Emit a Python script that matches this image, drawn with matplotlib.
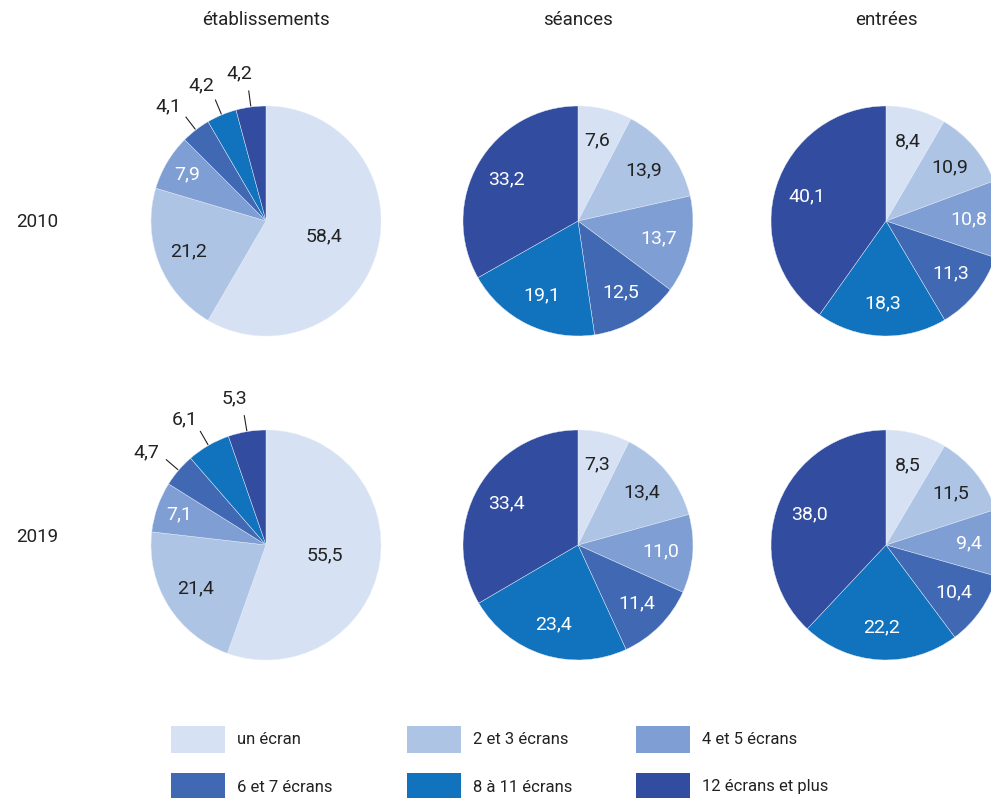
import numpy as np
import matplotlib.pyplot as plt
from matplotlib.patches import Rectangle

plt.rcParams['font.family'] = ['Roboto', 'DejaVu Sans']

categories = ['un écran', '2 et 3 écrans', '4 et 5 écrans',
              '6 et 7 écrans', '8 à 11 écrans', '12 écrans et plus']
colors = ['#d6e2f3', '#aec4e5', '#7f9fd4', '#4169b3', '#1173be', '#324da0']
text_colors = ['#222222', '#222222', 'white', 'white', 'white', 'white']

columns = ['établissements', 'séances', 'entrées']
years = ['2010', '2019']

etab_2010 = [58.4, 21.2, 7.9, 4.1, 4.2, 4.2]
seances_2010 = [7.6, 13.9, 13.7, 12.5, 19.1, 33.2]
entrees_2010 = [8.4, 10.9, 10.8, 11.3, 18.3, 40.1]
etab_2019 = [55.5, 21.4, 7.1, 4.7, 6.1, 5.3]
seances_2019 = [7.3, 13.4, 11.0, 11.4, 23.4, 33.4]
entrees_2019 = [8.5, 11.5, 9.4, 10.4, 22.2, 38.0]

data = [[etab_2010, seances_2010, entrees_2010],
        [etab_2019, seances_2019, entrees_2019]]

W, H = 991, 798
fig = plt.figure(figsize=(W / 100, H / 100), dpi=100)

centers_x = [266, 578, 886]
centers_y = [221, 545]
year_y = [222, 537]
R = 115
dark = '#222222'


def fmt(v):
    return f'{v:.1f}'.replace('.', ',')


for i, row in enumerate(data):
    for j, vals in enumerate(row):
        cx, cy = centers_x[j], centers_y[i]
        ax = fig.add_axes([(cx - R) / W, 1 - (cy + R) / H, 2 * R / W, 2 * R / H])
        ax.pie(vals, colors=colors, startangle=90, counterclock=False,
               radius=1, wedgeprops=dict(linewidth=0.3, edgecolor='#e8eef8'))
        ax.set_xlim(-1, 1)
        ax.set_ylim(-1, 1)
        ax.set_aspect('equal')
        ax.axis('off')

        cum = np.cumsum([0] + vals)
        total = cum[-1]
        for k, v in enumerate(vals):
            mid = 90 - 360 * (cum[k] + v / 2) / total
            a = np.deg2rad(mid)
            if j == 0 and k >= 3:
                # small slices: label outside with a leader line
                ax.plot([1.01 * np.cos(a), 1.14 * np.cos(a)],
                        [1.01 * np.sin(a), 1.14 * np.sin(a)],
                        color=dark, lw=0.8, clip_on=False)
                b = a + np.deg2rad(2.5)
                ax.text(1.32 * np.cos(b), 1.3 * np.sin(b), fmt(v),
                        ha='center', va='center', fontsize=14, color=dark)
            else:
                r = 0.52 if v > 50 else (0.8 if v < 9 and j == 0 else 0.72)
                ax.text(r * np.cos(a), r * np.sin(a), fmt(v),
                        ha='center', va='center', fontsize=14,
                        color=text_colors[k])

for j, name in enumerate(columns):
    fig.text(centers_x[j] / W, 1 - 20 / H, name, ha='center', va='center',
             fontsize=13.5, color=dark)

for i, y in enumerate(years):
    fig.text(37 / W, 1 - year_y[i] / H, y, ha='center', va='center',
             fontsize=13.5, color=dark)

# legend, two rows of three
leg_x = [171, 407, 636]
leg_y = [740, 787]
for k, cat in enumerate(categories):
    x = leg_x[k % 3]
    y = leg_y[k // 3]
    fig.patches.append(Rectangle((x / W, 1 - (y + 13) / H), 54 / W, 27 / H,
                                 transform=fig.transFigure, facecolor=colors[k],
                                 edgecolor='none'))
    fig.text((x + 66) / W, 1 - y / H, cat, ha='left', va='center',
             fontsize=12, color=dark)

fig.savefig('out.png', dpi=100)
